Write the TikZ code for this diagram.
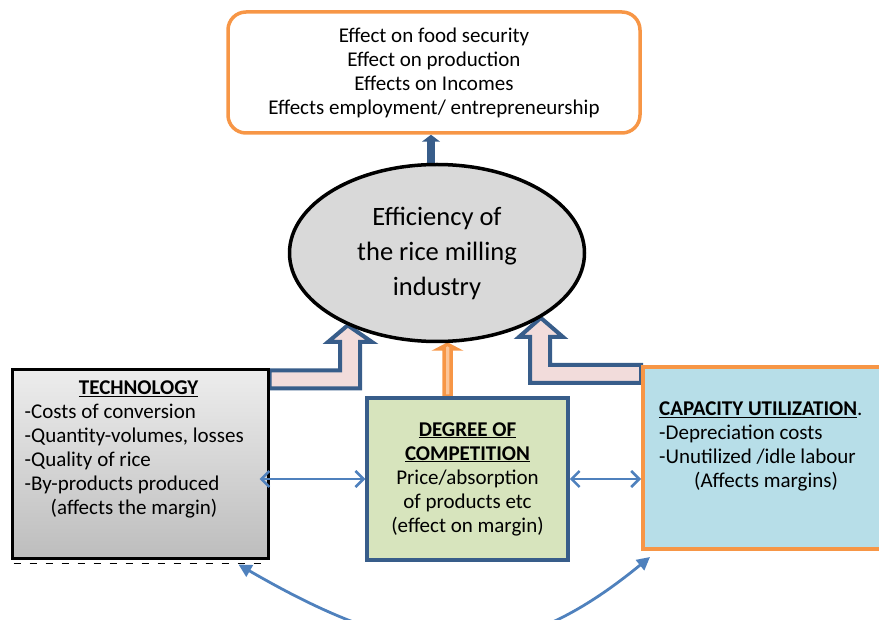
\documentclass[tikz,border=0pt]{standalone}
\usepackage{fontspec}
\setmainfont{Carlito}
\usetikzlibrary{shapes.geometric,arrows.meta,calc,backgrounds}
\definecolor{randblau}{HTML}{385D8A}
\definecolor{pfeilblau}{HTML}{4F81BD}
\definecolor{orangerot}{HTML}{F79646}
\definecolor{rosa}{HTML}{F2DCDB}
\definecolor{hellgruen}{HTML}{D7E4BD}
\definecolor{hellblau}{HTML}{B7DEE8}
\definecolor{hellgrau}{HTML}{D9D9D9}
\definecolor{grauoben}{HTML}{EDEDED}
\definecolor{grauunten}{HTML}{BDBDBD}
\begin{document}
\begin{tikzpicture}[x=1pt,y=-1pt,
  kasten/.style={draw,line width=3.5pt,inner sep=0pt},
  txt/.style={font=\fontsize{21}{24}\selectfont},
  blockpfeil/.style={draw=randblau,fill=rosa,line width=4pt,line join=miter},
  doppelpfeil/.style={pfeilblau,line width=2.5pt,{Straight Barb[length=8pt,width=16pt]}-{Straight Barb[length=8pt,width=16pt]}},
  bogenpfeil/.style={pfeilblau,line width=2.8pt,{Triangle[length=13pt,width=13pt]}-{Triangle[length=13pt,width=13pt]}}]
\useasboundingbox (0,0) rectangle (879,620);

\node[kasten,draw=orangerot,rounded corners=18pt,minimum width=412pt,minimum height=121pt,txt,align=center] (wirkung) at (434,72.5)
  {Effect on food security\\Effect on production\\Effects on Incomes\\Effects employment/ entrepreneurship};
\node[ellipse,draw,line width=3.5pt,fill=hellgrau,minimum width=295pt,minimum height=177pt,inner sep=0pt,font=\fontsize{26.5}{35}\selectfont,align=center] (effizienz) at (437,253)
  {Efficiency of\\the rice milling\\industry};

\node[kasten,line width=3pt,top color=grauoben,bottom color=grauunten,minimum width=256pt,minimum height=188pt] (technik) at (140,464) {};
\node[txt,anchor=north west,align=left,inner sep=0pt] (technik-text) at ($(technik.north west)+(14,12)$)
  {\makebox[228pt]{\underline{\textbf{TECHNOLOGY}}}\\-Costs of conversion\\-Quantity-volumes, losses\\-Quality of rice\\-By-products produced\\\hspace*{26pt}(affects the margin)};
\draw[dash pattern=on 7pt off 9pt,line width=1.5pt] ($(technik.south west)+(3,4)$) -- ($(technik.south east)+(0,4)$);

\node[kasten,draw=randblau,fill=hellgruen,minimum width=201pt,minimum height=162pt,txt,align=center] (wettbewerb) at (467.5,479)
  {\underline{\textbf{DEGREE OF}}\\\underline{\textbf{COMPETITION}}\\Price/absorption\\of products etc\\(effect on margin)};

\node[kasten,line width=4pt,draw=orangerot,fill=hellblau,minimum width=260pt,minimum height=182pt] (auslastung) at (773,458) {};
\node[txt,anchor=north west,align=left,inner sep=0pt] (auslastung-text) at ($(auslastung.north west)+(18,37)$)
  {\underline{\textbf{CAPACITY UTILIZATION}}.\\-Depreciation costs\\-Unutilized /idle labour\\\hspace*{35pt}(Affects margins)};

\begin{scope}[on background layer]
\draw[blockpfeil] ($(technik.north east)+(0,2)$) -| (340,342) -- (328,342) -- (effizienz.219) -- (372,342) -- (360,342) |- ($(technik.north east)+(0,20)$) -- cycle;
\draw[blockpfeil] (auslastung.north west) -| (550,337) -- (563,337) -- (effizienz.328) -- (519,337) -- (530,337) |- ($(auslastung.north west)+(0,18)$) -- cycle;
\draw[draw=orangerot,fill=orangerot!55!white,line width=3.5pt,line join=miter] ($(wettbewerb.north)+(-23.5,0)$) -- (444,349) -- (438.5,349) -- ($(effizienz.south)+(10.5,1)$) -- (456.5,349) -- (451,349) -- ($(wettbewerb.north)+(-16.5,0)$) -- cycle;
\draw[randblau,line width=8pt,-{Triangle[length=7pt,width=18pt]}] ($(effizienz.north)+(-6,0)$) -- ($(wirkung.south)+(-3,0)$);
\end{scope}

\draw[doppelpfeil] ($(technik.east |- wettbewerb.west)+(-10,0)$) -- (wettbewerb.west);
\draw[doppelpfeil] (wettbewerb.east) -- (auslastung.west |- wettbewerb.east);
\draw[bogenpfeil] ($(technik.south east)+(-31,5)$) .. controls (417,668) and (512,670) .. ($(auslastung.south west)+(9,6)$);
\end{tikzpicture}
\end{document}
